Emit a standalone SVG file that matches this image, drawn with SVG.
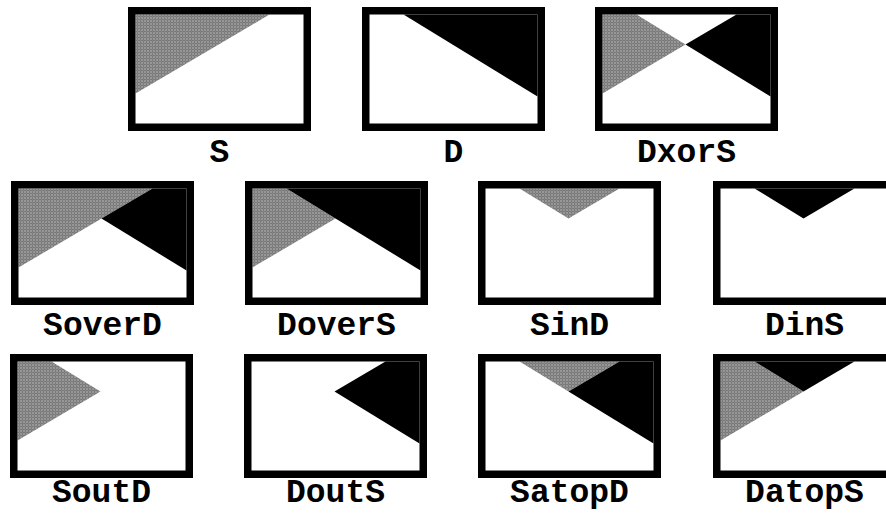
<svg xmlns="http://www.w3.org/2000/svg" width="886" height="514" viewBox="0 0 886 514">
<style>
.inner{fill:#fff}
.frame{fill:none;stroke:#000;stroke-width:7.5}
.g{fill:url(#dots)}
.b{fill:#000}
.lbl{font-family:"Liberation Mono","Courier New",monospace;font-weight:bold;font-size:33px;fill:#000;text-anchor:middle}
</style>
<defs>
<pattern id="dots" patternUnits="userSpaceOnUse" width="3" height="3">
<rect width="3" height="3" fill="#6a6a6a"/>
<rect width="1" height="1" fill="#fff"/>
<rect x="1.5" y="1.5" width="1" height="1" fill="#ddd"/>
</pattern>
<rect id="bg" x="0" y="0" width="183" height="124" fill="#fff"/>
<rect id="fr" x="3.75" y="3.75" width="175.5" height="116.5" class="frame"/>
<polygon id="sTri" points="0,0 134,0 0,79"/>
<polygon id="dTri" points="34,0 168,0 168,82"/>
<polygon id="sOut" points="0,0 34,0 83,30 0,79"/>
<polygon id="dOut" points="134,0 168,0 168,82 83,30"/>
<polygon id="inter" points="34,0 134,0 83,30"/>
</defs>

<g id="S" transform="translate(128,7)">
<use href="#bg"/>
<g transform="translate(7.5,7.5)"><use href="#sTri" class="g"/></g>
<use href="#fr"/>
<text class="lbl" x="91.5" y="155">S</text>
</g>

<g id="D" transform="translate(362,7)">
<use href="#bg"/>
<g transform="translate(7.5,7.5)"><use href="#dTri" class="b"/></g>
<use href="#fr"/>
<text class="lbl" x="91.5" y="155">D</text>
</g>

<g id="DxorS" transform="translate(595,7)">
<use href="#bg"/>
<g transform="translate(7.5,7.5)"><use href="#sOut" class="g"/><use href="#dOut" class="b"/></g>
<use href="#fr"/>
<text class="lbl" x="91.5" y="155">DxorS</text>
</g>

<g id="SoverD" transform="translate(11,181)">
<use href="#bg"/>
<g transform="translate(7.5,7.5)"><use href="#sTri" class="g"/><use href="#dOut" class="b"/></g>
<use href="#fr"/>
<text class="lbl" x="91.5" y="154">SoverD</text>
</g>

<g id="DoverS" transform="translate(245,181)">
<use href="#bg"/>
<g transform="translate(7.5,7.5)"><use href="#sOut" class="g"/><use href="#dTri" class="b"/></g>
<use href="#fr"/>
<text class="lbl" x="91.5" y="154">DoverS</text>
</g>

<g id="SinD" transform="translate(478,181)">
<use href="#bg"/>
<g transform="translate(7.5,7.5)"><use href="#inter" class="g"/></g>
<use href="#fr"/>
<text class="lbl" x="91.5" y="154">SinD</text>
</g>

<g id="DinS" transform="translate(713,181)">
<use href="#bg"/>
<g transform="translate(7.5,7.5)"><use href="#inter" class="b"/></g>
<use href="#fr"/>
<text class="lbl" x="91.5" y="154">DinS</text>
</g>

<g id="SoutD" transform="translate(10,354)">
<use href="#bg"/>
<g transform="translate(7.5,7.5)"><use href="#sOut" class="g"/></g>
<use href="#fr"/>
<text class="lbl" x="91.5" y="148">SoutD</text>
</g>

<g id="DoutS" transform="translate(244,354)">
<use href="#bg"/>
<g transform="translate(7.5,7.5)"><use href="#dOut" class="b"/></g>
<use href="#fr"/>
<text class="lbl" x="91.5" y="148">DoutS</text>
</g>

<g id="SatopD" transform="translate(478,354)">
<use href="#bg"/>
<g transform="translate(7.5,7.5)"><use href="#inter" class="g"/><use href="#dOut" class="b"/></g>
<use href="#fr"/>
<text class="lbl" x="91.5" y="148">SatopD</text>
</g>

<g id="DatopS" transform="translate(713,354)">
<use href="#bg"/>
<g transform="translate(7.5,7.5)"><use href="#sOut" class="g"/><use href="#inter" class="b"/></g>
<use href="#fr"/>
<text class="lbl" x="91.5" y="148">DatopS</text>
</g>

<g id="connectors"/>
</svg>
